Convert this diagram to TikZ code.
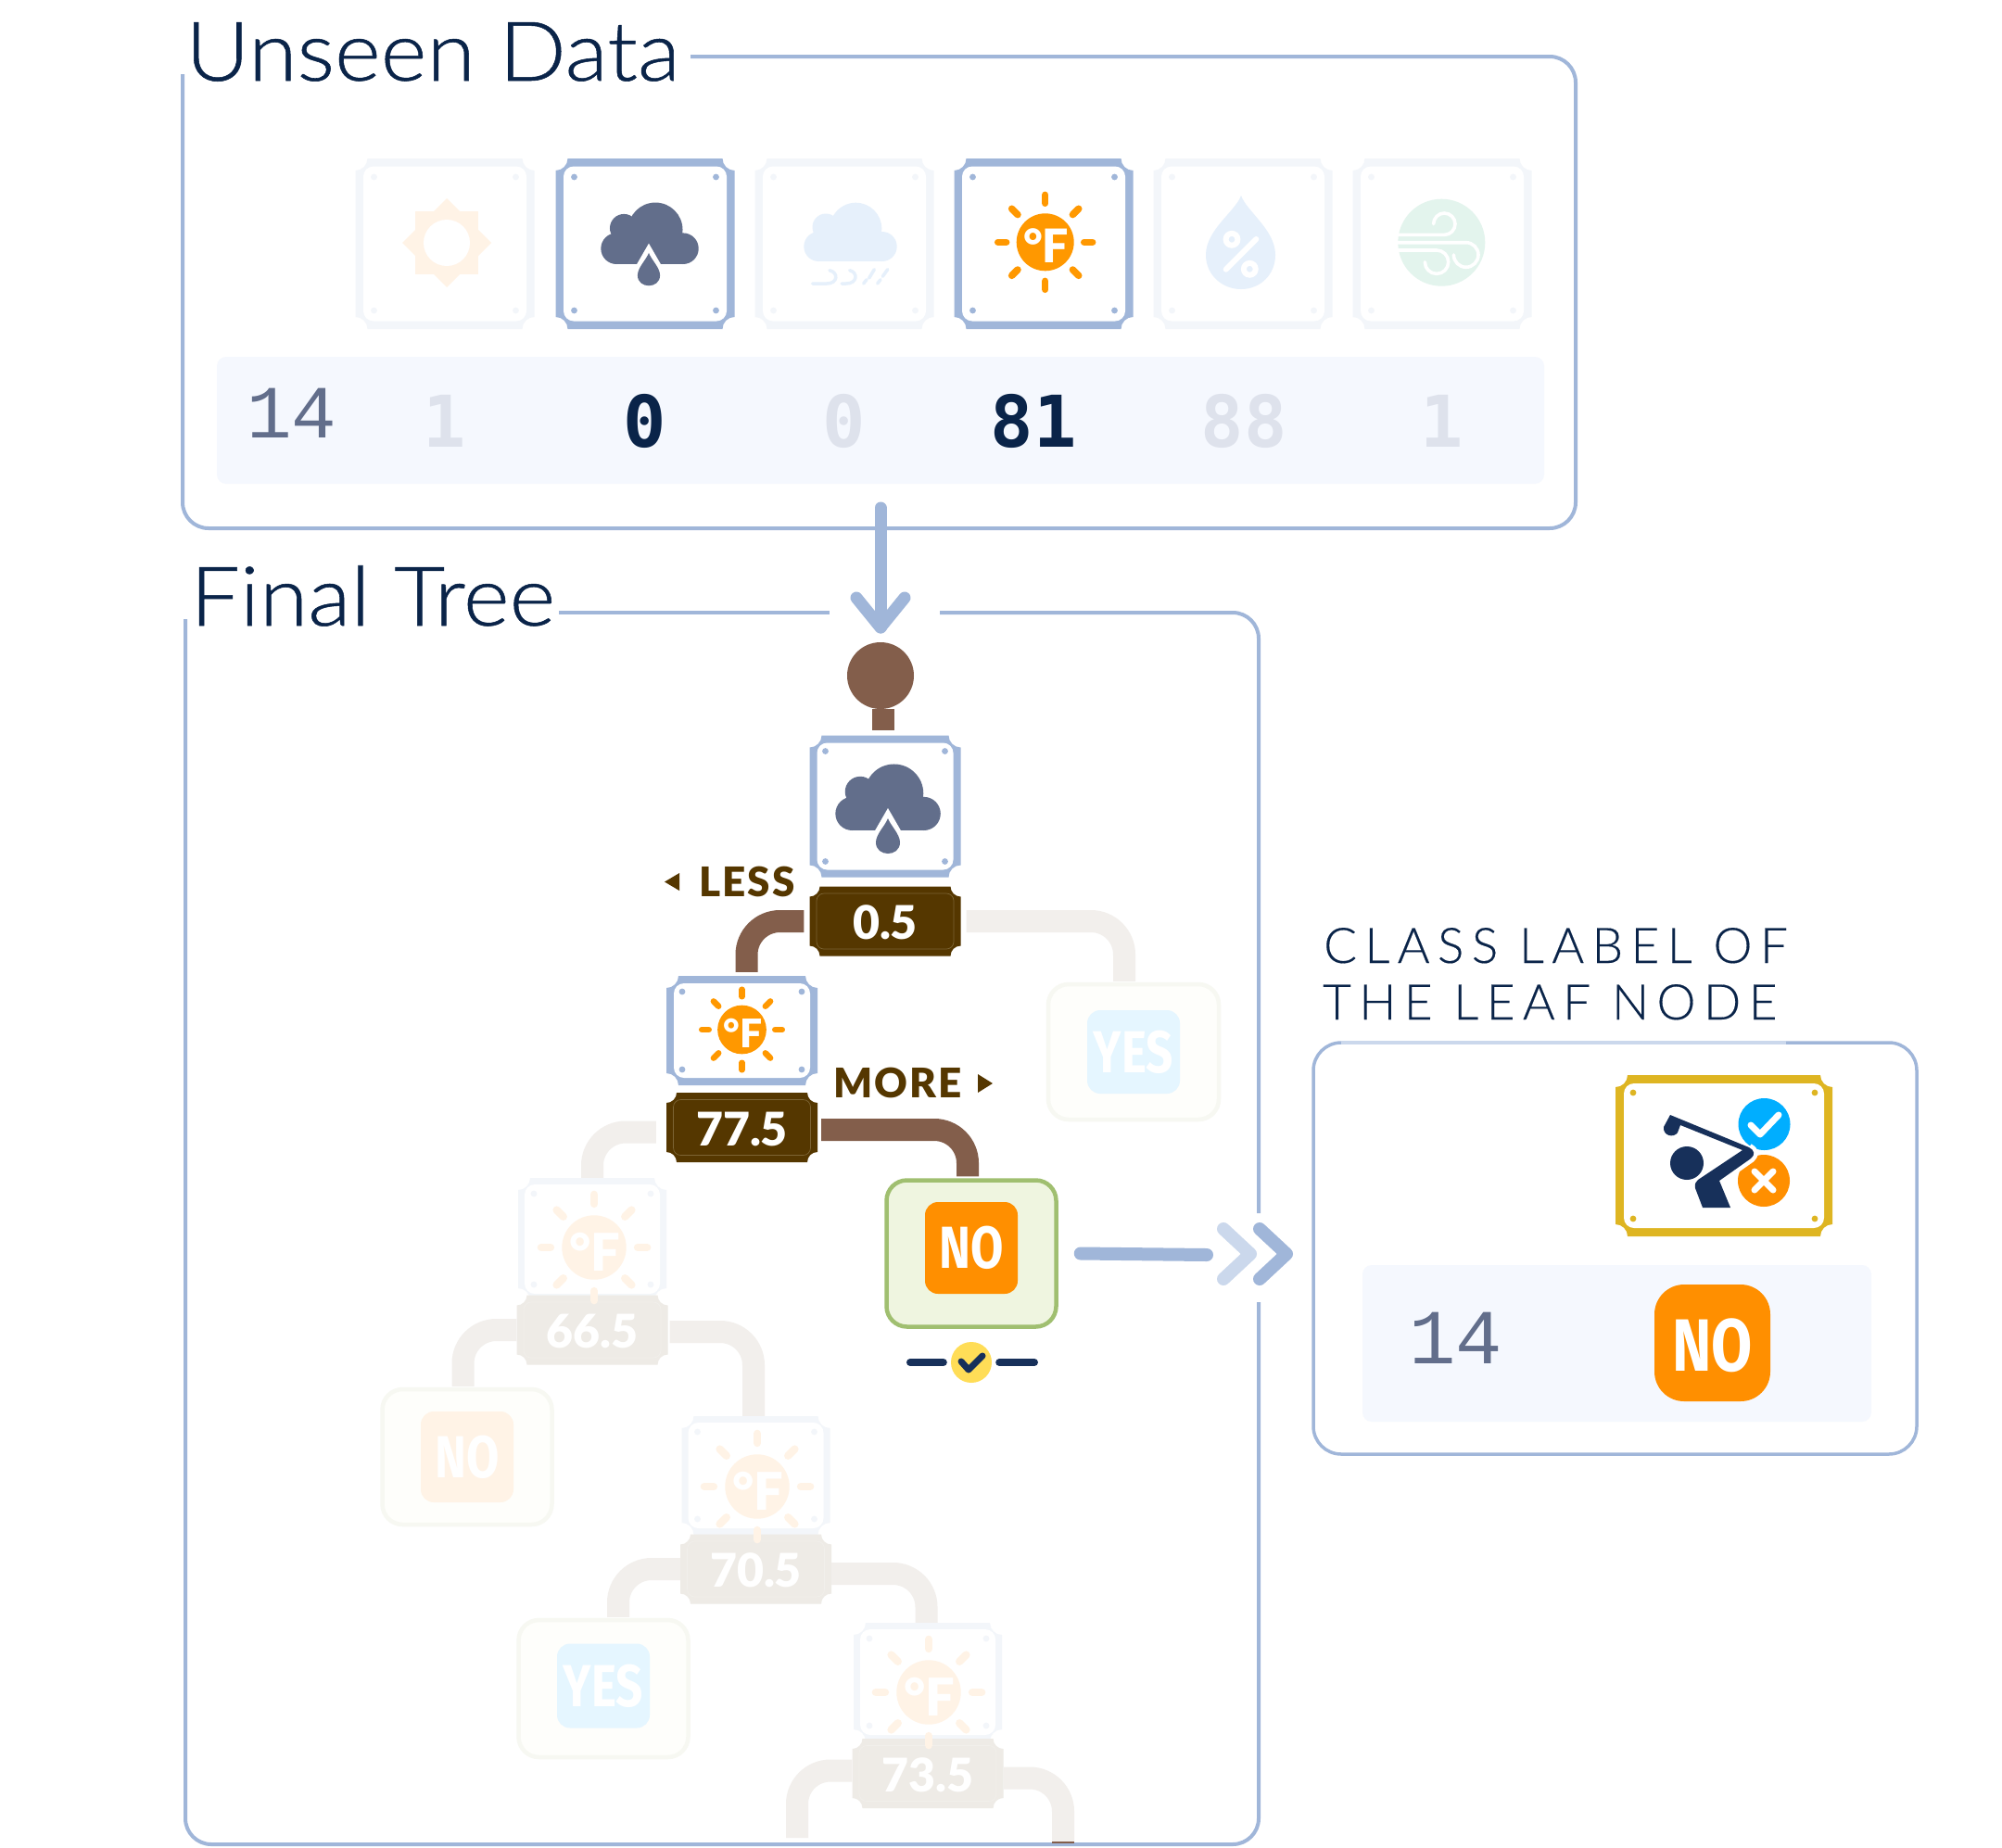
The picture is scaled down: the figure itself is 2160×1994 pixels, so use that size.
\documentclass[tikz,border=0pt]{standalone}
\usepackage{fontspec}
\usetikzlibrary{calc}
\setmainfont{Lato}
\newfontfamily\titlef{Lato Light}[FakeStretch=1.07,FakeBold=0.6]
\newfontfamily\capf{Lato Light}[LetterSpace=16,FakeBold=0.3]
\newfontfamily\tagf{Lato}[BoldFont=Lato Black]
\newfontfamily\dirf{Lato}[BoldFont=Lato Black,LetterSpace=5]
\newfontfamily\leaff{Fira Sans}[FakeStretch=0.8]
\newfontfamily\monob{DejaVu Sans Mono}
\newfontfamily\monol{Liberation Mono}
\definecolor{navy}{HTML}{0A2449}
\definecolor{frameblue}{HTML}{A0B6D9}
\definecolor{framelight}{HTML}{CBD8EC}
\definecolor{cardfade}{HTML}{F3F6FA}
\definecolor{rowbg}{HTML}{F5F8FE}
\definecolor{slate}{HTML}{626E8B}
\definecolor{digitfade}{HTML}{DEE2EC}
\definecolor{orangeA}{HTML}{FF8F00}
\definecolor{sunorange}{HTML}{FF9800}
\definecolor{orangefade}{HTML}{FFF3E6}
\definecolor{bluefade}{HTML}{E6F0FB}
\definecolor{windfade}{HTML}{E3F4ED}
\definecolor{linkbrown}{HTML}{835E4B}
\definecolor{linkfade}{HTML}{F2EFEC}
\definecolor{tagbrown}{HTML}{553700}
\definecolor{tagline}{HTML}{7C6434}
\definecolor{tagfade}{HTML}{EEEBE6}
\definecolor{leaffill}{HTML}{EFF5E0}
\definecolor{leafline}{HTML}{A0BF70}
\definecolor{leaffadefill}{HTML}{FEFEFB}
\definecolor{leaffadeline}{HTML}{F7F8F2}
\definecolor{yesfade}{HTML}{E5F6FF}
\definecolor{gold}{HTML}{DEB522}
\definecolor{badge}{HTML}{FFDD57}
\definecolor{skyA}{HTML}{00AEFF}
\definecolor{deep}{HTML}{17305A}
\tikzset{
  frameline/.style={draw=frameblue,line width=4pt,rounded corners=28pt},
  link/.style={draw=linkbrown,line width=24pt,rounded corners=36pt},
  linkf/.style={draw=linkfade,line width=24pt,rounded corners=36pt},
  flow/.style={draw=frameblue,line width=13pt,line cap=round,line join=round},
  numb/.style={font=\monob\bfseries\fontsize{77}{80}\selectfont,inner sep=0pt},
  numl/.style={font=\monol\fontsize{81}{90}\selectfont,text=slate,inner sep=0pt},
  dirlabel/.style={font=\dirf\bfseries\fontsize{44}{50}\selectfont,text=tagbrown,inner sep=0pt},
  tagtext/.style={font=\tagf\bfseries\fontsize{50}{55}\selectfont,inner sep=0pt},
  leaftext/.style={font=\leaff\bfseries\fontsize{64}{65}\selectfont,text=white,inner sep=0pt},
  titletext/.style={font=\titlef\fontsize{89}{95}\selectfont,text=navy,inner sep=0pt,anchor=base west},
  captext/.style={font=\capf\fontsize{53}{60}\selectfont,text=navy,inner sep=0pt,anchor=base west},
}
% notched plate: name, cx, cy, w, h, notch, colour
\newcommand\notched[7]{%
  \pgfmathsetmacro\xa{#2-#4/2}\pgfmathsetmacro\xb{#2+#4/2}%
  \pgfmathsetmacro\ya{#3-#5/2}\pgfmathsetmacro\yb{#3+#5/2}%
  \pgfmathsetmacro\nn{#6}\pgfmathsetmacro\nk{#6*0.55}%
  \node[inner sep=0pt,minimum width=#4pt,minimum height=#5pt] (#1) at (#2,#3) {};
  \fill[#7] ({\xa+\nn},\ya) -- ({\xb-\nn},\ya)
    .. controls ({\xb-\nn},{\ya+\nk}) and ({\xb-\nk},{\ya+\nn}) .. (\xb,{\ya+\nn})
    -- (\xb,{\yb-\nn})
    .. controls ({\xb-\nk},{\yb-\nn}) and ({\xb-\nn},{\yb-\nk}) .. ({\xb-\nn},\yb)
    -- ({\xa+\nn},\yb)
    .. controls ({\xa+\nn},{\yb-\nk}) and ({\xa+\nk},{\yb-\nn}) .. (\xa,{\yb-\nn})
    -- (\xa,{\ya+\nn})
    .. controls ({\xa+\nk},{\ya+\nn}) and ({\xa+\nn},{\ya+\nk}) .. ({\xa+\nn},\ya) -- cycle;
}
% card: name, cx, cy, w, h, colour, border, dot inset
\newcommand\cardbox[8]{%
  \notched{#1}{#2}{#3}{#4}{#5}{13}{#6}%
  \fill[white,rounded corners=11pt] ({#2-#4/2+#7},{#3-#5/2+#7}) rectangle ({#2+#4/2-#7},{#3+#5/2-#7});
  \foreach \sx in {-1,1}{\foreach \sy in {-1,1}{
    \fill[#6] ({#2+\sx*(#4/2-#8)},{#3+\sy*(#5/2-#8)}) circle[radius=3.4];}}
}
% threshold tag: name, cx, cy, fill, inner line, text colour, text
\newcommand\tagbox[7]{%
  \notched{#1}{#2}{#3}{163}{75}{11}{#4}%
  \draw[#5,line width=.7pt,rounded corners=8pt] ({#2-74},{#3-30}) rectangle ({#2+74},{#3+30});
  \node[tagtext,text=#6] (#1text) at (#2,{#3+1.5}) {#7};
}
% sun: name, cx, cy, scale, colour
\newcommand\sunicon[5]{%
  \begin{scope}[shift={(#2,#3)},scale=#4]
    \foreach \a in {0,45,...,315}{
      \draw[#5,line cap=round,line width=#4*7.5pt] ({42*cos(\a)},{42*sin(\a)}) -- ({51*cos(\a)},{51*sin(\a)});}
    \fill[#5] (0,0) circle[radius=31];
    \node[font=\tagf\bfseries\fontsize{50}{52}\selectfont,text=white,inner sep=0pt,scale=#4] (#1) at (1,4) {°F};
  \end{scope}
}
% cloud: cx, bottom y, scale, colour
\newcommand\cloudicon[4]{%
  \begin{scope}[shift={(#1,#2)},scale=#3]
    \fill[#4] (6.3,-35.3) circle[radius=28];
    \fill[#4] (-26,-37) circle[radius=14.5];
    \fill[#4] (-33.7,-16) circle[radius=16];
    \fill[#4] (34.7,-16) circle[radius=16];
    \fill[#4] (-33.7,-16) rectangle (34.7,0);
    \fill[#4] (-30,-35) rectangle (30,-16);
  \end{scope}
}
\newcommand\dropicon[3]{%
  \begin{scope}[shift={(#1,#2)},scale=#3]
    \fill[white] (0,-24) -- (15,2) -- (-15,2) -- cycle;
    \fill[slate] (0,-13) .. controls (3,-5) and (13,4) .. (13,13)
      .. controls (13,29) and (-13,29) .. (-13,13)
      .. controls (-13,4) and (-3,-5) .. (0,-13) -- cycle;
  \end{scope}
}
% leaf: name, cx, cy, w, h, fill, line, inner colour, inner h; \leafdy shifts the inner plate
\newcommand\leafdy{0}
\newcommand\leafbox[9]{%
  \node[draw=#7,fill=#6,line width=4.5pt,rounded corners=22pt,inner sep=0pt,minimum width=#4pt,minimum height=#5pt] (#1) at (#2,#3) {};
  \node[fill=#8,rounded corners=14pt,inner sep=0pt,minimum width=100pt,minimum height=#9pt] (#1inner) at (#2,{#3+\leafdy}) {};
}
\begin{document}
\begin{tikzpicture}[x=1pt,y=-1pt]
\useasboundingbox (0,0) rectangle (2160,1994);
\fill[white] (0,0) rectangle (2160,1994);

% ---------- Unseen Data panel
\draw[frameline] (745,61) -- (1700,61) -- (1700,570) -- (197,570) -- (197,80);
\node[titletext] (unseen) at (200,87) {Unseen Data};
\node[fill=rowbg,rounded corners=10pt,inner sep=0pt,minimum width=1432pt,minimum height=137pt] (row) at (950,453.5) {};

\cardbox{f1}{480}{263}{193}{184}{cardfade}{8.5}{20}
\cardbox{f2}{696}{263}{193}{184}{frameblue}{8.5}{20}
\cardbox{f3}{911}{263}{193}{184}{cardfade}{8.5}{20}
\cardbox{f4}{1126}{263}{193}{184}{frameblue}{8.5}{20}
\cardbox{f5}{1341}{263}{193}{184}{cardfade}{8.5}{20}
\cardbox{f6}{1556}{263}{193}{184}{cardfade}{8.5}{20}

% outlook sun (faded)
\begin{scope}[shift={(482,262)}]
  \fill[orangefade] (-34,-34) rectangle (34,34);
  \fill[orangefade] (0,-48) -- (48,0) -- (0,48) -- (-48,0) -- cycle;
  \fill[white] (0,0) circle[radius=25];
\end{scope}
% precipitation cloud
\cloudicon{700.5}{285}{1.05}{slate}
\dropicon{700}{285}{0.93}
% cloud + rain marks (faded)
\cloudicon{917}{282}{1}{bluefade}
\begin{scope}[bluefade,line width=3.5pt,line cap=round]
  \draw (876.7,306) -- (892,306) .. controls (904,306) and (905,294) .. (895,291.7);
  \draw (908,306) -- (913,306) .. controls (925,306) and (926,294) .. (916.7,291.7);
  \draw (931.7,306) -- (935,301.7) (937.7,300) -- (943.3,290.7);
  \draw (946.7,306) -- (950,301.7) (952.3,298.3) -- (957.7,290.7);
\end{scope}
% temperature sun
\sunicon{sunf}{1127.7}{261.3}{1}{sunorange}
% humidity drop (faded)
\fill[bluefade] (1339,211) .. controls (1345,228) and (1376,248) .. (1376,275)
  .. controls (1376,297) and (1359,312) .. (1339,312)
  .. controls (1319,312) and (1301,297) .. (1301,275)
  .. controls (1301,248) and (1333,228) .. (1339,211) -- cycle;
\draw[white,line width=6pt] (1329,258.3) circle[radius=6.4] (1348.3,290.3) circle[radius=6.4];
\draw[white,line width=6pt,line cap=round] (1322.7,290.7) -- (1355.3,258);
% wind (faded)
\fill[windfade] (1555.3,261.7) circle[radius=47];
\begin{scope}[white,line width=3.6pt,line cap=round]
  \draw (1508,253.4) -- (1558.3,253.4) .. controls (1564.7,253.4) and (1570,248.1) .. (1570,241.7)
    .. controls (1570,235.3) and (1564.7,230) .. (1558.3,230) .. controls (1551.9,230) and (1546.6,235.3) .. (1546.6,241.7);
  \draw (1508,261.7) -- (1581.7,261.7) .. controls (1589,261.7) and (1595,267.7) .. (1595,275)
    .. controls (1595,282.3) and (1589,288.3) .. (1581.7,288.3) .. controls (1574.4,288.3) and (1568.4,282.3) .. (1568.4,275);
  \draw (1508,270) -- (1550,270) .. controls (1557,270) and (1562.7,275.7) .. (1562.7,282.7)
    .. controls (1562.7,289.7) and (1557,295.4) .. (1550,295.4) .. controls (1543,295.4) and (1537.3,289.7) .. (1537.3,282.7);
\end{scope}

% values
\node[numl] (vid) at (315,446) {14};
\node[numb,text=digitfade] (v1) at (480,454) {1};
\node[numb,text=navy] (v2) at (696,454) {0};
\node[numb,text=digitfade] (v3) at (911,454) {0};
\node[numb,text=navy] (v4) at (1115,454) {81};
\node[numb,text=digitfade] (v5) at (1342,454) {88};
\node[numb,text=digitfade] (v6) at (1556,454) {1};

% ---------- Final Tree panel
\draw[frameline] (603,661) -- (895,661);
\draw[frameline] (1014,661) -- (1358,661) -- (1358,1309);
\draw[frameline] (1358,1405) -- (1358,1990) -- (200,1990) -- (200,668);
\node[titletext] (final) at (205,675) {Final Tree};

% flow arrow into the tree
\coordinate (flowstart) at (950,548);
\coordinate (flowtip) at (950,677);
\draw[flow] (flowstart) -- (flowtip);
\draw[flow] (924,645) -- (flowtip) -- (976,645);

% root
\node[circle,fill=linkbrown,inner sep=0pt,minimum size=72pt] (root) at (950,729) {};

% tree nodes
\cardbox{c1}{955}{870}{163}{153}{frameblue}{8}{17}
\tagbox{t1}{955}{994}{tagbrown}{tagline}{white}{0.5}
\cardbox{c2}{800.5}{1112}{163}{118}{frameblue}{8}{17}
\tagbox{t2}{800.5}{1216.5}{tagbrown}{tagline}{white}{77.5}
\cardbox{c3}{639}{1337}{160}{132}{cardfade}{7}{17}
\tagbox{t3}{639}{1435}{tagfade}{tagfade!80!white}{white}{66.5}
\cardbox{c4}{815.5}{1592}{160}{128}{cardfade}{7}{17}
\tagbox{t4}{815.5}{1693}{tagfade}{tagfade!80!white}{white}{70.5}
\cardbox{c5}{1001}{1815}{160}{128}{cardfade}{7}{17}
\tagbox{t5}{1001}{1913.5}{tagfade}{tagfade!80!white}{white}{73.5}

\leafbox{lyes}{1223}{1135}{184}{146}{leaffadefill}{leaffadeline}{yesfade}{90}
\node[leaftext] (lyest) at (lyesinner) {YES};
\renewcommand\leafdy{-6}
\leafbox{lno}{1048}{1352.5}{183}{158}{leaffill}{leafline}{orangeA}{99}
\renewcommand\leafdy{0}
\node[leaftext] (lnot) at (lnoinner) {NO};
\leafbox{lno2}{504}{1572}{183}{146}{leaffadefill}{leaffadeline}{orangefade}{98}
\node[leaftext] (lno2t) at (lno2inner) {NO};
\renewcommand\leafdy{-3}
\leafbox{lyes2}{651}{1822}{183}{148}{leaffadefill}{leaffadeline}{yesfade}{91}
\renewcommand\leafdy{0}
\node[leaftext] (lyes2t) at (lyes2inner) {YES};

% tree connectors
\draw[link,rounded corners=0pt] ([xshift=2.5pt]root.south) -- ([xshift=-2.5pt,yshift=5pt]c1.north);
\draw[link] ([xshift=-6pt]t1.west) -| ([xshift=5pt,yshift=4pt]c2.north);
\draw[linkf] ([xshift=6pt]t1.east) -| ([xshift=-10pt,yshift=1pt]lyes.north);
\draw[link] ([xshift=4pt,yshift=-2.5pt]t2.east) -| ([xshift=-4pt,yshift=2pt]lno.north);
\draw[linkf] ([xshift=-11pt,yshift=-5pt]t2.west) -| ([yshift=0pt]c3.north);
\draw[linkf] (t3.west) -| ([xshift=-4.5pt,yshift=1pt]lno2.north);
\draw[linkf] ([xshift=2pt,yshift=-2pt]t3.east) -| ([xshift=-2.5pt]c4.north);
\draw[linkf] (t4.west) -| ([xshift=16pt,yshift=1pt]lyes2.north);
\draw[linkf] ([yshift=-5pt]t4.east) -| ([xshift=-1.5pt]c5.north);
\coordinate (endl) at (860,1983);
\coordinate (endr) at (1147,1988);
\draw[linkf] ([yshift=3pt]t5.west) -| (endl);
\draw[linkf] ([yshift=-5pt]t5.east) -| (endr);
\fill[linkbrown] (1135,1987) rectangle (1159,1989);

% icons on the tree cards
\cloudicon{957.5}{896}{1.13}{slate}
\dropicon{958}{896}{1.0}
\sunicon{sun2}{800.5}{1111}{.85}{sunorange}
\sunicon{sun3}{641}{1346}{1.12}{orangefade}
\sunicon{sun4}{817}{1604}{1.12}{orangefade}
\sunicon{sun5}{1002}{1826}{1.12}{orangefade}

% direction labels
\fill[tagbrown] (717,951.5) -- (733,942) -- (733,961) -- cycle;
\node[dirlabel] (less) at (806,951.5) {LESS};
\node[dirlabel] (more) at (968.5,1168.5) {MORE};
\fill[tagbrown] (1055,1159) -- (1071,1169) -- (1055,1179) -- cycle;

% correct-class badge
\node[circle,fill=badge,inner sep=0pt,minimum size=44pt] (ok) at (1048,1470) {};
\coordinate (dl) at (982,1470);
\coordinate (dr) at (1116,1470);
\draw[deep,line width=8pt,line cap=round] (dl) -- ([xshift=-8pt]ok.west);
\draw[deep,line width=8pt,line cap=round] ([xshift=8pt]ok.east) -- (dr);
\draw[deep,line width=7pt,line cap=round,line join=round] (1037,1469) -- (1045,1478) -- (1060,1463);

% arrow to the result
\coordinate (outend) at (1302,1354);
\draw[flow,line width=14pt] ([xshift=24pt]lno.east) -- (outend);
\draw[draw=framelight,line width=14pt,line cap=round,line join=round] (1320,1326) -- (1349,1353) -- (1320,1380);
\draw[flow,line width=14pt] (1359,1326) -- (1388,1353) -- (1359,1380);

% ---------- Class label panel
\node[captext] (cap1) at (1428,1039) {CLASS LABEL OF};
\node[captext] (cap2) at (1427,1100) {THE LEAF NODE};
\draw[draw=frameblue,line width=3.5pt,rounded corners=30pt] (1927,1125) -- (2068,1125) -- (2068,1569) -- (1417,1569) -- (1417,1125) -- (1927,1125);
\draw[framelight,line width=3.5pt] (1447,1125) -- (1927,1125);
\node[fill=rowbg,rounded corners=10pt,inner sep=0pt,minimum width=549pt,minimum height=169pt] (row2) at (1744.5,1449.5) {};

\cardbox{res}{1860}{1247}{234}{174}{gold}{9}{19}
% golfer with check and cross
\fill[skyA] (1903.5,1213) circle[radius=28];
\draw[white,line width=7pt,line cap=round,line join=round] (1889,1214) -- (1899,1224) -- (1919,1203);
\fill[orangeA] (1903,1274) circle[radius=28];
\draw[white,line width=7pt,line cap=round] (1893,1264) -- (1913,1284) (1913,1264) -- (1893,1284);
\draw[white,line width=9pt,line join=round] (1887,1238) .. controls (1893,1241) and (1894,1246) .. (1889,1250) -- (1855,1274);
\fill[deep] (1802,1203) -- (1887,1238) .. controls (1893,1241) and (1894,1246) .. (1889,1250)
  -- (1855,1274) -- (1867,1303) -- (1837,1303) -- (1829,1282) .. controls (1828,1277) and (1830,1275) .. (1832,1273)
  -- (1880,1241) -- (1813,1214) -- (1810,1222) .. controls (1806,1228) and (1794,1226) .. (1795,1216) -- cycle;
\fill[deep] (1820,1255) circle[radius=18];

\node[numl,font=\monol\fontsize{84}{90}\selectfont] (rid) at (1570.5,1444) {14};
\node[fill=orangeA,rounded corners=32pt,inner sep=0pt,minimum width=125pt,minimum height=126pt] (rno) at (1847.5,1449) {};
\node[leaftext,font=\leaff\bfseries\fontsize{80}{84}\selectfont] (rnot) at (1847.5,1452) {NO};
\end{tikzpicture}
\end{document}
